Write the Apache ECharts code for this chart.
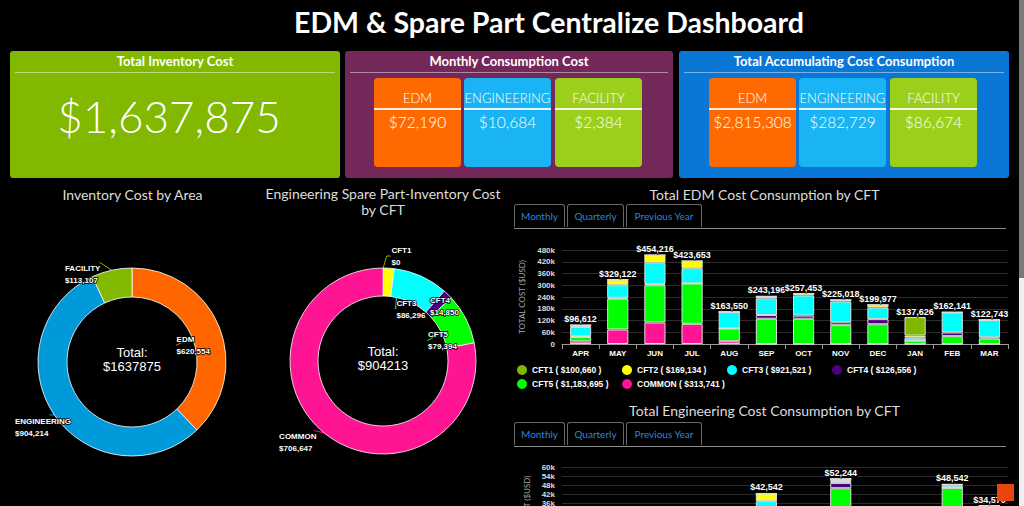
<!DOCTYPE html>
<html lang="en">
<head>
<meta charset="UTF-8">
<title>EDM &amp; Spare Part Centralize Dashboard</title>
<script src="https://cdn.jsdelivr.net/npm/echarts@6/dist/echarts.min.js"></script>
<style>
  body{margin:0;width:1024px;height:506px;overflow:hidden;background:#000;color:#fff;
       font-family:Lato,'Open Sans',sans-serif;position:relative;}
  #title{position:absolute;left:49px;width:1000px;top:4px;text-align:center;font-size:28.5px;font-weight:bold;line-height:36px;}
  .card{position:absolute;top:51px;height:127px;border-radius:3px;}
  .card .head{position:absolute;left:5px;right:5px;top:0;height:21px;line-height:20px;text-align:center;
              font-weight:bold;font-size:13px;border-bottom:1px solid rgba(255,255,255,.45);}
  .big{position:absolute;left:0;right:12px;top:42px;text-align:center;font-size:44px;font-weight:300;line-height:46px;}
  .sub{position:absolute;top:27px;width:87px;height:89px;border-radius:4px;text-align:center;}
  .sub .lbl{position:absolute;left:0;right:0;top:10px;height:20px;line-height:20px;font-size:13px;font-weight:300;
            border-bottom:2px solid rgba(255,255,255,.9);}
  .sub .val{position:absolute;left:0;right:0;top:34px;line-height:20px;font-size:15.5px;font-weight:300;}
  .chart{position:absolute;}
  .tabs{position:absolute;height:24px;border-bottom:1px solid #8a8a8a;}
  .tab{position:absolute;top:0;height:23px;border:1px solid #666;border-bottom:none;border-radius:3px 3px 0 0;
       color:#2a86d8;font-size:10px;line-height:23px;text-align:center;box-sizing:border-box;}
  #scroll{position:absolute;left:1019px;top:0;width:5px;height:506px;background:#f0f0f0;}
  #thumb{position:absolute;left:0;top:0;width:5px;height:278px;background:#7a7a7a;}
  #totop{position:absolute;left:997px;top:484px;width:17px;height:17px;background:#e8450f;}
</style>
</head>
<body>
<div id="title">EDM &amp; Spare Part Centralize Dashboard</div>

<div class="card" style="left:10px;width:330px;background:#82b800">
  <div class="head">Total Inventory Cost</div>
  <div class="big" id="bigTotal"></div>
</div>
<div class="card" id="monthlyCard" style="left:345px;width:328px;background:#74285a">
  <div class="head">Monthly Consumption Cost</div>
</div>
<div class="card" id="accumCard" style="left:679px;width:330px;background:#0a76d6">
  <div class="head">Total Accumulating Cost Consumption</div>
</div>

<div class="chart" id="pie1" style="left:0;top:180px;width:265px;height:326px"></div>
<div class="chart" id="pie2" style="left:255px;top:180px;width:256px;height:326px"></div>
<div class="chart" id="bar1" style="left:505px;top:180px;width:519px;height:220px"></div>
<div class="chart" id="bar2" style="left:505px;top:400px;width:519px;height:220px"></div>

<div class="tabs" style="left:514px;top:204px;width:492px">
  <div class="tab" style="left:0;width:51px">Monthly</div>
  <div class="tab" style="left:53px;width:57px">Quarterly</div>
  <div class="tab" style="left:112px;width:76px">Previous Year</div>
</div>
<div class="tabs" style="left:514px;top:422px;width:492px">
  <div class="tab" style="left:0;width:51px">Monthly</div>
  <div class="tab" style="left:53px;width:57px">Quarterly</div>
  <div class="tab" style="left:112px;width:76px">Previous Year</div>
</div>

<div id="scroll"><div id="thumb"></div></div>
<div id="totop"></div>

<script>
// ---- card numbers ----
var areaNames = ['EDM', 'ENGINEERING', 'FACILITY'];
var areaColors = ['#ff6a00', '#1ab3f3', '#9ccf1c'];
var monthlyCost = [72190, 10684, 2384];
var accumCost = [2815308, 282729, 86674];

// ---- inventory cost by area ----
var areaValues = [620554, 904214, 113107];
var ringColors = ['#ff6600', '#0099da', '#82b800'];

// ---- engineering spare part inventory by CFT ----
var cftNames = ['CFT1', 'CFT2', 'CFT3', 'CFT4', 'CFT5', 'COMMON'];
var cftColors = ['#7fb800', '#ffff00', '#00ffff', '#4b0082', '#00ff00', '#ff1493'];
var engInvValues = [0, 17026, 86296, 14850, 79394, 706647];

// ---- EDM cost consumption by CFT (monthly) ----
var months = ['APR', 'MAY', 'JUN', 'JUL', 'AUG', 'SEP', 'OCT', 'NOV', 'DEC', 'JAN', 'FEB', 'MAR'];
var edmCft1 = [0, 0, 0, 0, 0, 0, 0, 0, 0, 94626, 0, 0];
var edmCft2 = [9612, 29122, 39216, 36653, 0, 10196, 9453, 8018, 13977, 11000, 2141, 0];
var edmCft3 = [47000, 64000, 109000, 77000, 84550, 85000, 103000, 106000, 59000, 15000, 101000, 88743];
var edmCft4 = [4000, 5000, 6000, 1000, 0, 19000, 16000, 15000, 26000, 0, 19000, 6000];
var edmCft5 = [23000, 157000, 190000, 206000, 65000, 129000, 129000, 96000, 101000, 17000, 40000, 28000];
var edmCommon = [13000, 74000, 110000, 103000, 14000, 0, 0, 0, 0, 0, 0, 0];
var edmLegendTotals = [100660, 169134, 921521, 126556, 1183695, 313741];

// ---- Engineering cost consumption by CFT (monthly) ----
var engCft1 = [0, 0, 0, 0, 0, 0, 0, 0, 0, 0, 0, 0];
var engCft2 = [0, 0, 0, 0, 0, 5042, 0, 1500, 0, 0, 842, 0];
var engCft3 = [0, 0, 0, 0, 0, 7500, 0, 1244, 0, 0, 1400, 4570];
var engCft4 = [0, 0, 0, 0, 0, 0, 0, 3500, 0, 0, 0, 0];
var engCft5 = [12000, 9800, 15400, 11200, 18300, 30000, 14600, 46000, 13900, 9631, 46300, 30000];
var engCommon = [0, 0, 0, 0, 0, 0, 0, 0, 0, 0, 0, 0];

function money(v) { return '$' + v.toLocaleString('en-US'); }
function sum(a) { return a.reduce(function (s, v) { return s + v; }, 0); }

// cards
document.getElementById('bigTotal').textContent = money(sum(areaValues));
function fillCard(id, values, lefts) {
  var card = document.getElementById(id);
  areaNames.forEach(function (n, i) {
    var d = document.createElement('div');
    d.className = 'sub';
    d.style.left = lefts[i] + 'px';
    d.style.background = areaColors[i];
    d.innerHTML = '<div class="lbl">' + n + '</div><div class="val">' + money(values[i]) + '</div>';
    card.appendChild(d);
  });
}
fillCard('monthlyCard', monthlyCost, [29, 119, 210]);
fillCard('accumCard', accumCost, [30, 120, 211]);

var labelFont = {color: '#fff', fontSize: 8, fontWeight: 'bold', fontFamily: 'Liberation Sans',
                 lineHeight: 12, textBorderColor: '#000', textBorderWidth: 1.5, width: 70, overflow: 'none'};
var titleFont = {color: '#dcdcdc', fontSize: 14, fontWeight: 'normal', fontFamily: 'Lato', lineHeight: 16};
var centerFont = {color: '#fff', fontSize: 13, fontWeight: 'normal', fontFamily: 'Liberation Sans', lineHeight: 14};

function pieLabel(p) { return p.name + '\n' + money(p.value); }
// highcharts-style label placement: left aligned, nudged from where echarts puts them
function nudger(shifts) {
  return function (p) {
    var s = shifts[p.dataIndex] || [0, 0];
    return {x: p.labelRect.x + s[0], y: p.labelRect.y + s[1], align: 'left', verticalAlign: 'top'};
  };
}

// pie 1
var pie1 = echarts.init(document.getElementById('pie1'), null, {renderer: 'svg'});
pie1.setOption({
  animation: false,
  title: [
    {text: 'Inventory Cost by Area', left: 'center', top: 1, textStyle: titleFont},
    {text: 'Total:\n$' + sum(areaValues), left: 127, top: 160, textAlign: 'center', textStyle: centerFont}
  ],
  series: [{
    type: 'pie', center: [132, 182], radius: [65, 94], startAngle: 90,
    itemStyle: {borderColor: 'rgba(255,255,255,0.8)', borderWidth: 1},
    label: Object.assign({formatter: pieLabel}, labelFont),
    labelLine: {length: 4, length2: 4},
    labelLayout: nudger([[3, 14], [43, 10], [33, 8]]),
    data: areaNames.map(function (n, i) {
      var d = {name: n, value: areaValues[i], itemStyle: {color: ringColors[i]}};
      if (i === 0) d.label = {position: 'inside'};
      return d;
    })
  }]
});

// pie 2
var pie2 = echarts.init(document.getElementById('pie2'), null, {renderer: 'svg'});
pie2.setOption({
  animation: false,
  title: [
    {text: 'Engineering Spare Part-Inventory Cost\nby CFT', left: 'center', top: 0, textStyle: titleFont},
    {text: 'Total:\n$' + sum(engInvValues), left: 123, top: 159, textAlign: 'center', textStyle: centerFont}
  ],
  series: [{
    type: 'pie', center: [128, 181], radius: [65, 93], startAngle: 89.9,
    itemStyle: {borderColor: 'rgba(255,255,255,0.8)', borderWidth: 1},
    label: Object.assign({formatter: pieLabel}, labelFont),
    labelLine: {length: 18, length2: 4},
    labelLayout: nudger([[0, 6], [0, 0], [15, 23], [-35, 19], [7, 17], [40, 5]]),
    data: cftNames.map(function (n, i) {
      var d = {name: n, value: engInvValues[i], itemStyle: {color: cftColors[i]}};
      if (i === 1) d.label = {show: false};
      if (i === 2 || i === 4) d.label = {position: 'inside'};
      if (i === 3) d.labelLine = {show: false, length: 10, length2: 6};
      if (i === 5) d.labelLine = {length: 6, length2: 6};
      return d;
    })
  }]
});

function stackedSeries(lists, stack) {
  var totals = months.map(function (m, i) {
    return lists.reduce(function (s, l) { return s + l[i]; }, 0);
  });
  var out = [];
  // highcharts-like order: first CFT on top, so push in reverse
  for (var k = lists.length - 1; k >= 0; k--) {
    var s = {
      name: cftNames[k], type: 'bar', stack: stack, data: lists[k], barWidth: '57%',
      itemStyle: {color: cftColors[k], borderColor: '#dddddd', borderWidth: 1}
    };
    if (k === 0) {
      s.label = {
        show: true, position: 'top', distance: 1,
        formatter: function (p) { return money(totals[p.dataIndex]); },
        color: '#fff', fontSize: 9, fontWeight: 'bold', fontFamily: 'Liberation Sans',
        textBorderColor: '#000', textBorderWidth: 2
      };
    }
    out.push(s);
  }
  return out;
}

function barOption(title, lists, max, interval, withLegend, legendTotals) {
  var opt = {
    animation: false,
    title: {text: title, left: 'center', top: 1, textStyle: titleFont},
    grid: {left: 57, right: 16, top: 70, bottom: 56},
    xAxis: {
      type: 'category', data: months,
      axisLine: {lineStyle: {color: '#9a9a9a'}},
      axisTick: {show: true, length: 5, lineStyle: {color: '#9a9a9a'}},
      axisLabel: {color: '#fff', fontSize: 8, fontWeight: 'bold', fontFamily: 'Liberation Sans', margin: 5}
    },
    yAxis: {
      type: 'value', min: 0, max: max, interval: interval,
      name: 'TOTAL COST ($USD)', nameLocation: 'middle', nameGap: 30,
      nameTextStyle: {color: '#aaa', fontSize: 8, fontFamily: 'Lato'},
      axisLabel: {
        color: '#ddd', fontSize: 8, fontWeight: 'bold', fontFamily: 'Liberation Sans', margin: 7,
        formatter: function (v) { return v === 0 ? '0' : (v / 1000) + 'k'; }
      },
      splitLine: {lineStyle: {color: '#2c2c2c'}}
    },
    series: stackedSeries(lists, 'cft')
  };
  if (withLegend) {
    opt.legend = {
      data: cftNames, left: 7, top: 179, width: 440, icon: 'circle',
      itemWidth: 10, itemHeight: 10, itemGap: 2,
      itemStyle: {borderWidth: 0},
      textStyle: {color: '#fff', fontSize: 8.5, fontWeight: 'bold', fontFamily: 'Liberation Sans', width: 88, lineHeight: 12},
      formatter: function (n) { return n + ' ( ' + money(legendTotals[cftNames.indexOf(n)]) + ' )'; }
    };
  }
  return opt;
}

var bar1 = echarts.init(document.getElementById('bar1'), null, {renderer: 'svg'});
bar1.setOption(barOption('Total EDM Cost Consumption by CFT',
  [edmCft1, edmCft2, edmCft3, edmCft4, edmCft5, edmCommon], 480000, 60000, true, edmLegendTotals));

var bar2 = echarts.init(document.getElementById('bar2'), null, {renderer: 'svg'});
var opt2 = barOption('Total Engineering Cost Consumption by CFT',
  [engCft1, engCft2, engCft3, engCft4, engCft5, engCommon], 60000, 6000, false);
opt2.title.top = -3;
opt2.grid = {left: 57, right: 16, top: 67, bottom: 62};
bar2.setOption(opt2);
</script>
</body>
</html>
